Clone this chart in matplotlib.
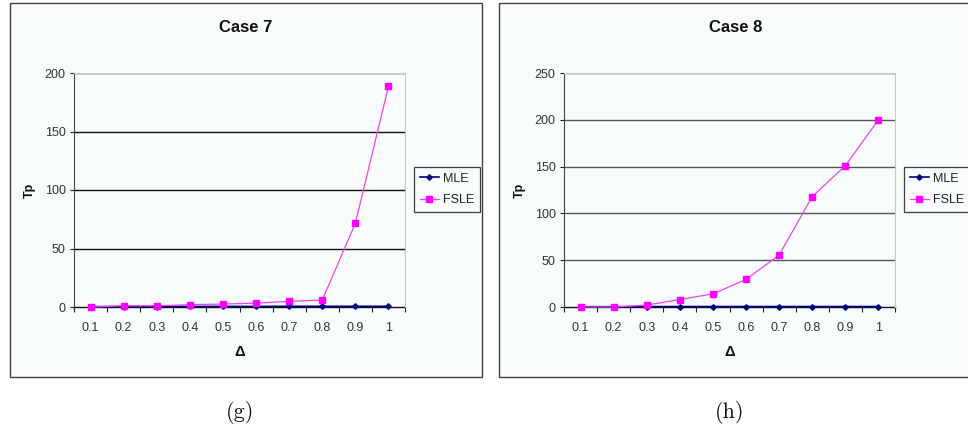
import matplotlib
matplotlib.use("Agg")
import matplotlib.pyplot as plt
from matplotlib.patches import Rectangle
import numpy as np

# ---- data ----
categories = ["0.1", "0.2", "0.3", "0.4", "0.5", "0.6", "0.7", "0.8", "0.9", "1"]
case7_mle = [0.3, 0.4, 0.4, 0.5, 0.5, 0.5, 0.6, 0.6, 0.6, 0.6]
case7_fsle = [0, 1, 1, 2, 2.5, 3.3, 4.8, 6, 71.5, 188.5]
case8_mle = [0.3, 0.3, 0.4, 0.5, 0.5, 0.5, 0.5, 0.5, 0.5, 0.5]
case8_fsle = [0, 0, 2, 8, 14, 29.5, 55.5, 118, 151, 200]
case7_yticks = [0, 50, 100, 150, 200]
case8_yticks = [0, 50, 100, 150, 200, 250]
titles = ["Case 7", "Case 8"]
captions = ["(g)", "(h)"]
series_names = ["MLE", "FSLE"]

W, H = 968, 433
fig = plt.figure(figsize=(W / 100, H / 100), dpi=100)
fig.patch.set_facecolor("white")

def fx(px):
    return px / W

def fy(py):
    return 1 - py / H

panel_bg = "#f8fcfc"
SANS = "Liberation Sans"

# outer frames
fig.patches.append(Rectangle((fx(10), fy(377)), fx(472), 374 / H, transform=fig.transFigure,
                             facecolor=panel_bg, edgecolor="#404040", lw=1.0, zorder=-10))
fig.patches.append(Rectangle((fx(499), fy(377)), fx(480), 374 / H, transform=fig.transFigure,
                             facecolor=panel_bg, edgecolor="#404040", lw=1.0, zorder=-10))

def draw_panel(x0, mle, fsle, yticks, title, caption, gridcolor):
    ax = fig.add_axes([fx(x0 + 74), fy(307), fx(331), 234 / H])
    ax.set_zorder(1)
    ax.set_facecolor(panel_bg)
    x = np.arange(1, len(categories) + 1)
    ax.plot(x, mle, color="#000080", lw=1.2, marker="D", ms=2.8,
            markerfacecolor="#000080", markeredgecolor="#000080", label=series_names[0], zorder=3,
            clip_on=False)
    ax.plot(x, fsle, color="#ee44ee", lw=0.9, marker="s", ms=4.2,
            markerfacecolor="#ff00ff", markeredgecolor="#ff00ff", label=series_names[1], zorder=4,
            clip_on=False)
    ax.set_xlim(0.5, len(categories) + 0.5)
    ax.set_ylim(yticks[0], yticks[-1])
    ax.set_yticks(yticks)
    ax.set_yticklabels([str(v) for v in yticks], fontfamily=SANS, fontsize=9, color="#333333")
    ax.set_xticks(x)
    ax.set_xticklabels(categories, fontfamily=SANS, fontsize=9, color="#333333")
    ax.set_xticks(np.arange(0.5, len(categories) + 1.0, 1.0), minor=True)
    ax.tick_params(axis="x", which="major", length=0, pad=11)
    ax.tick_params(axis="x", which="minor", length=3.5, width=0.8, direction="out", color="#222222")
    ax.tick_params(axis="y", which="major", length=3, width=0.8, direction="out", pad=3, color="#222222")
    for v in yticks[1:]:
        ax.axhline(v, color=gridcolor, lw=1.0, zorder=1)
    ax.spines["top"].set_color("#c8c8c8")
    ax.spines["right"].set_color("#c8c8c8")
    ax.spines["left"].set_color("#444444")
    ax.spines["bottom"].set_color("#111111")
    ax.spines["bottom"].set_linewidth(1.0)
    ax.spines["bottom"].set_zorder(2)
    fig.text(fx(x0 + 246), fy(28), title, ha="center", va="center",
             fontfamily=SANS, fontsize=12, fontweight="bold", color="#111111")
    fig.text(fx(x0 + 30), fy(190), "Tp", ha="center", va="center", rotation=90,
             fontfamily=SANS, fontsize=9, fontweight="bold", color="#111111")
    fig.text(fx(x0 + 240), fy(352), "Δ", ha="center", va="center",
             fontfamily=SANS, fontsize=10.5, fontweight="bold", color="#111111")
    leg = ax.legend(loc="upper left", bbox_to_anchor=(fx(x0 + 414), fy(167)),
                    bbox_transform=fig.transFigure, borderaxespad=0, fancybox=False,
                    prop={"family": SANS, "size": 9}, handlelength=1.55, handletextpad=0.3,
                    borderpad=0.45, labelspacing=0.75, framealpha=1, facecolor=panel_bg,
                    edgecolor="#404040")
    leg.get_frame().set_linewidth(0.9)
    for t in leg.get_texts():
        t.set_color("#222222")
    fig.text(fx(x0 + 240), fy(412), caption, ha="center", va="center",
             fontfamily="cmr10", fontsize=16, color="#111111")
    return ax

draw_panel(0, case7_mle, case7_fsle, case7_yticks, titles[0], captions[0], "#111111")
draw_panel(490, case8_mle, case8_fsle, case8_yticks, titles[1], captions[1], "#555555")

fig.savefig("out.png", dpi=100, facecolor="white")
